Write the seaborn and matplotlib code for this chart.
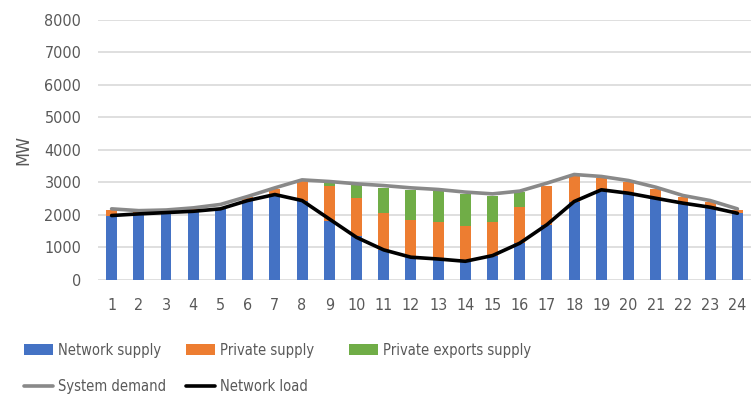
import numpy as np
import pandas as pd
import matplotlib
matplotlib.use("Agg")
import matplotlib.pyplot as plt
import seaborn as sns

hours = [str(h) for h in range(1, 25)]
network_supply = [1980, 2030, 2070, 2110, 2185, 2440, 2595, 2440, 1825, 1355, 925, 700,
                  645, 575, 750, 1130, 1700, 2410, 2770, 2665, 2510, 2360, 2235, 2050]
private_supply = [185, 70, 65, 60, 40, 100, 205, 615, 1055, 1155, 1125, 1150,
                  1130, 1095, 1045, 1125, 1200, 780, 370, 340, 270, 185, 155, 105]
private_exports = [0, 0, 0, 0, 0, 0, 0, 0, 125, 425, 780, 920,
                   955, 975, 800, 445, 0, 0, 0, 0, 0, 0, 0, 0]
system_demand = [2185, 2130, 2150, 2215, 2320, 2565, 2830, 3075, 3025, 2955, 2900, 2830,
                 2780, 2700, 2645, 2730, 2975, 3240, 3180, 3055, 2850, 2595, 2440, 2185]
network_load = [1980, 2030, 2070, 2110, 2185, 2440, 2625, 2440, 1875, 1310, 925, 700,
                645, 575, 750, 1130, 1700, 2410, 2770, 2665, 2510, 2360, 2235, 2050]
y_ticks = [0, 1000, 2000, 3000, 4000, 5000, 6000, 7000, 8000]

sns.set_style("white")
plt.rcParams["font.family"] = ["DejaVu Sans"]
plt.rcParams["font.stretch"] = "condensed"

df = pd.DataFrame({
    "hour": hours,
    "net": network_supply,
    "priv": private_supply,
    "exp": private_exports,
    "demand": system_demand,
    "load": network_load,
})
df["base2"] = df["net"] + df["priv"]
df["pos"] = np.arange(len(df))

fig = plt.figure(figsize=(7.51, 3.98), dpi=100)
ax = fig.add_axes([98 / 751, 1 - 280 / 398, 653 / 751, 260.5 / 398])

blue, orange, green = "#4472C4", "#ED7D31", "#70AD47"
bw = 0.4
sns.barplot(data=df, x="hour", y="net", color=blue, saturation=1, width=bw,
            label="Network supply", ax=ax, zorder=2, linewidth=0)
sns.barplot(data=df, x="hour", y="priv", bottom=df["net"], color=orange, saturation=1,
            width=bw, label="Private supply", ax=ax, zorder=2, linewidth=0)
sns.barplot(data=df, x="hour", y="exp", bottom=df["base2"], color=green, saturation=1,
            width=bw, label="Private exports supply", ax=ax, zorder=2, linewidth=0)
sns.lineplot(data=df, x="pos", y="demand", color="#898989", linewidth=2.6,
             label="System demand", ax=ax, zorder=3)
sns.lineplot(data=df, x="pos", y="load", color="black", linewidth=2.6,
             label="Network load", ax=ax, zorder=4)

ax.set_xlim(-0.5, len(hours) - 0.5)
ax.set_ylim(0, 8000)
ax.set_yticks(y_ticks)
ax.set_xticks(df["pos"])
ax.set_xticklabels(hours)
ax.yaxis.grid(True, color="#D9D9D9", linewidth=1.2, zorder=0)
ax.set_axisbelow(True)
for s in ax.spines.values():
    s.set_visible(False)
ax.tick_params(axis="both", length=0, labelsize=11.5, labelcolor="#595959")
ax.tick_params(axis="y", pad=12)
ax.tick_params(axis="x", pad=13)
ax.set_xlabel("")
ax.set_ylabel("MW", fontsize=13, color="#595959", labelpad=9)

handles, labels = ax.get_legend_handles_labels()
hmap = dict(zip(labels, handles))
ax.get_legend().remove()

fs = 10.5
common = dict(frameon=False, fontsize=fs, borderpad=0, borderaxespad=0,
              handlelength=2.0, handletextpad=0.3, labelspacing=1.5,
              labelcolor="#595959")
row1_y = 1 - 350 / 398
mid_y = 1 - 368.5 / 398
leg1 = fig.legend([hmap["Network supply"], hmap["System demand"]],
                  ["Network supply", "System demand"], loc="center left",
                  bbox_to_anchor=(24 / 751, mid_y), **common)
leg2 = fig.legend([hmap["Private supply"], hmap["Network load"]],
                  ["Private supply", "Network load"], loc="center left",
                  bbox_to_anchor=(186 / 751, mid_y), **common)
leg3 = fig.legend([hmap["Private exports supply"]], ["Private exports supply"],
                  loc="center left", bbox_to_anchor=(349 / 751, row1_y), **common)

fig.savefig("out.png", dpi=100)
